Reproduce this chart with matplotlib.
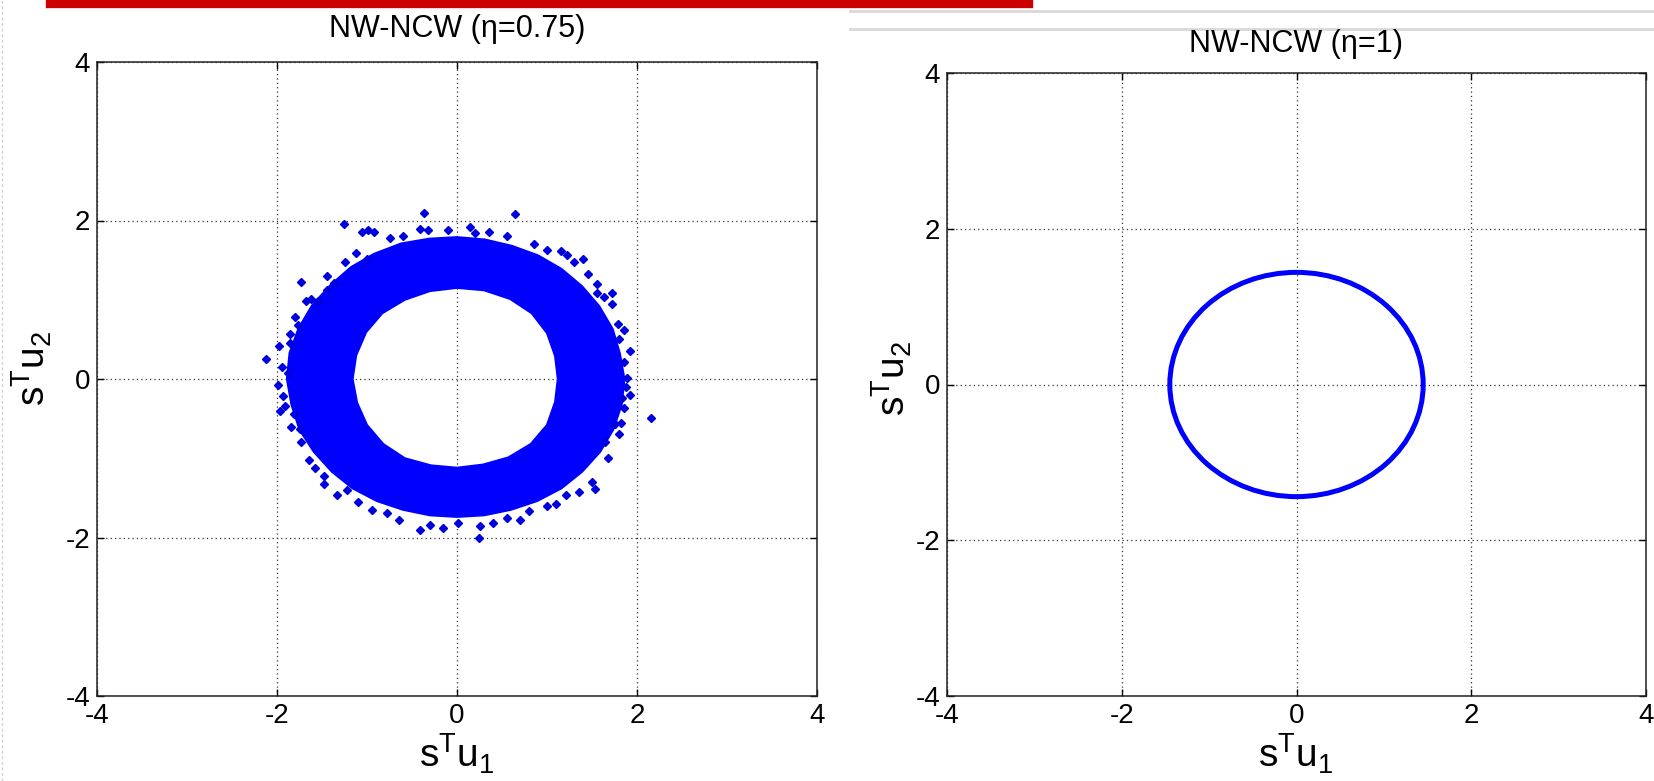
import matplotlib.pyplot as plt
from matplotlib.path import Path
from matplotlib.patches import PathPatch, Ellipse
from matplotlib.lines import Line2D

plt.rcParams['font.family'] = ['Liberation Sans', 'DejaVu Sans']
plt.rcParams['mathtext.fontset'] = 'custom'
plt.rcParams['mathtext.rm'] = 'Liberation Sans'
plt.rcParams['mathtext.it'] = 'Liberation Sans'
plt.rcParams['axes.unicode_minus'] = False

# ---- data ----
ticks = [-4, -2, 0, 2, 4]
titles = ['NW-NCW (\u03b7=0.75)', 'NW-NCW (\u03b7=1)']

# left panel: dense ring of samples (outer / inner edge of the filled band)
outer_x = [1.86, 1.81, 1.73, 1.58, 1.39, 1.16, 0.90, 0.61, 0.31, 0.00, -0.31, -0.62,
           -0.92, -1.18, -1.41, -1.61, -1.76, -1.86, -1.89, -1.84, -1.75, -1.59, -1.39, -1.16,
           -0.89, -0.60, -0.30, 0.00, 0.30, 0.60, 0.89, 1.16, 1.39, 1.59, 1.74, 1.83]
outer_y = [0.00, 0.32, 0.63, 0.92, 1.17, 1.39, 1.56, 1.68, 1.76, 1.79, 1.77, 1.71,
           1.58, 1.41, 1.18, 0.93, 0.64, 0.33, 0.00, -0.32, -0.64, -0.92, -1.17, -1.38,
           -1.54, -1.65, -1.72, -1.74, -1.72, -1.65, -1.54, -1.38, -1.17, -0.92, -0.63, -0.32]
inner_x = [1.12, 1.09, 1.00, 0.83, 0.59, 0.30, 0.00, -0.30, -0.58, -0.83, -1.01, -1.12,
           -1.16, -1.11, -1.00, -0.82, -0.58, -0.29, 0.00, 0.29, 0.57, 0.82, 1.00, 1.09]
inner_y = [0.00, 0.29, 0.58, 0.83, 1.01, 1.12, 1.15, 1.11, 1.00, 0.83, 0.59, 0.30,
           0.00, -0.30, -0.58, -0.82, -1.00, -1.09, -1.12, -1.08, -0.99, -0.82, -0.58, -0.29]

# stray samples around the band edge
stray_x = [-0.37, 0.64, -1.26, -1.06, -0.99, -0.92, -0.41, -0.32, 0.14, 0.20, 1.00, 1.22,
           1.40, 1.72, 1.63, 1.55, 1.79, 1.80, 1.85, 1.89, 1.88, 1.83, 1.86, 1.76, 1.80,
           1.64, 1.53, 1.50, 1.21, 1.00, 0.80, 0.56, 0.24, 0.26, 0.01, -0.16, -0.30, -0.41,
           -0.78, -0.95, -1.33, -1.22, -1.48, -1.58, -1.73, -1.75, -1.81, -1.97, -1.91,
           -1.99, -1.88, -1.98, -1.86, -1.86, -1.77, -2.12, -1.73, -1.62, -1.54, -1.45,
           -1.37, -1.25, -1.12, -1.00, 2.16,
           1.55, 1.45, 1.30, 0.85, 0.55, -0.10, -0.60, -0.75, -1.45, -1.68, -1.80, -1.95,
           -1.93, -1.85, -1.65, -1.48, -1.10, -0.65, 0.40, 0.70, 1.10, 1.35, 1.68, 1.82,
           1.92, 1.92, 1.85, 1.72, 1.15, 0.35]
stray_y = [2.10, 2.08, 1.96, 1.86, 1.88, 1.85, 1.89, 1.88, 1.92, 1.84, 1.63, 1.56,
           1.52, 1.08, 1.03, 1.08, 0.70, 0.50, 0.22, 0.01, -0.10, -0.24, -0.36, -0.57, -0.69,
           -0.80, -1.39, -1.30, -1.47, -1.60, -1.66, -1.76, -2.01, -1.86, -1.82, -1.88, -1.84,
           -1.90, -1.69, -1.65, -1.46, -1.40, -1.22, -1.12, -0.79, -0.63, -0.44, -0.40, -0.34,
           -0.07, 0.08, 0.42, 0.57, 0.46, 0.68, 0.25, 1.22, 1.01, 0.98, 1.12,
           1.21, 1.48, 1.59, 1.52, -0.49,
           1.20, 1.32, 1.48, 1.70, 1.80, 1.88, 1.80, 1.78, 1.30, 0.98, 0.78, 0.15,
           -0.22, -0.60, -1.02, -1.32, -1.55, -1.78, -1.82, -1.78, -1.58, -1.42, -1.00, -0.55,
           -0.20, 0.35, 0.62, 0.95, 1.62, 1.86]

# right panel: unit-modulus samples lie on a circle
circ_center = (0.0, 0.0)
circ_rx = 1.45
circ_ry = 1.44

W, H = 1654, 781
fig = plt.figure(figsize=(W / 100, H / 100), dpi=100)


def px_axes(l, t, r, b):
    return fig.add_axes([l / W, 1 - b / H, (r - l) / W, (b - t) / H])


def style(ax):
    ax.set_xlim(-4, 4)
    ax.set_ylim(-4, 4)
    ax.set_xticks(ticks)
    ax.set_yticks(ticks)
    ax.grid(True, color='#303030', linestyle=(0, (1, 2.5)), linewidth=0.9)
    ax.set_axisbelow(True)
    ax.tick_params(direction='in', length=5, width=1, top=True, right=True,
                   labelsize=20, pad=5)
    for s in ax.spines.values():
        s.set_linewidth(1.1)
        s.set_color('#222222')


ax1 = px_axes(97, 62, 817, 696)
style(ax1)
verts = list(zip(outer_x, outer_y)) + [(outer_x[0], outer_y[0])]
verts += list(zip(inner_x[::-1], inner_y[::-1])) + [(inner_x[-1], inner_y[-1])]
codes = ([Path.MOVETO] + [Path.LINETO] * (len(outer_x) - 1) + [Path.CLOSEPOLY]
         + [Path.MOVETO] + [Path.LINETO] * (len(inner_x) - 1) + [Path.CLOSEPOLY])
ax1.add_patch(PathPatch(Path(verts, codes), facecolor='#0000ff', edgecolor='#0000ff',
                        lw=1.5, joinstyle='round'))
ax1.plot(stray_x, stray_y, linestyle='none', marker='D', markersize=4, color='#0000dd')

ax2 = px_axes(947, 73, 1646, 696)
style(ax2)
ax2.add_patch(Ellipse(circ_center, 2 * circ_rx, 2 * circ_ry, fill=False,
                      edgecolor='#0000ff', linewidth=3.6))

# titles and axis labels placed in pixels to follow the slide layout
def ftext(x, y, s, **kw):
    fig.text(x / W, 1 - y / H, s, ha='center', va='center', **kw)

ftext(457, 29, titles[0], fontsize=22)
ftext(1296, 44, titles[1], fontsize=22)
for cx in (457, 1296):
    ftext(cx, 754, r'$\mathregular{s^T u_1}$', fontsize=28)
ftext(32, 368, r'$\mathregular{s^T u_2}$', fontsize=28, rotation=90)
ftext(892, 378, r'$\mathregular{s^T u_2}$', fontsize=28, rotation=90)

# slide decorations
fig.add_artist(Line2D([50 / W, 1029 / W], [1 - 4 / H, 1 - 4 / H], color='#cc0000', lw=6))
for gy in (11, 29):
    fig.add_artist(Line2D([850 / W, 1], [1 - gy / H, 1 - gy / H], color='#d8d8d8', lw=2))
fig.add_artist(Line2D([2 / W, 2 / W], [0, 1], color='#d0d0d0', lw=1, linestyle=(0, (2, 2))))

fig.savefig('out.png', dpi=100)
